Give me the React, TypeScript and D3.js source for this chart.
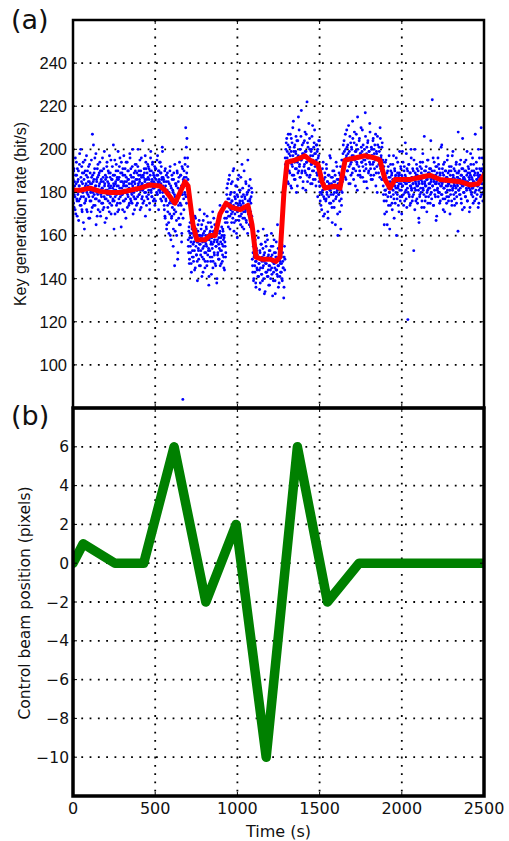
import React from 'react';
import * as d3 from 'd3';

// ---------- data ----------
const timeTicks = [0, 500, 1000, 1500, 2000, 2500];
const rateTicks = [100, 120, 140, 160, 180, 200, 220, 240];
const beamTicks = [-10, -8, -6, -4, -2, 0, 2, 4, 6];

// control beam position (panel b)
const beamTime = [0, 62, 255, 430, 615, 808, 992, 1175, 1365, 1548, 1740, 2500];
const beamPos = [0, 1, 0, 0, 6, -2, 2, -10, 6, -2, 0, 0];

// moving average of key rate (red line)
const avgTime = [0, 43, 103, 164, 225, 286, 347, 408, 468, 529, 560, 590, 620, 651, 681, 700, 730, 754, 803, 833, 864, 894, 931, 967, 1016, 1064, 1089, 1113, 1150, 1198, 1235, 1259, 1283, 1302, 1350, 1381, 1411, 1442, 1490, 1515, 1533, 1594, 1624, 1655, 1715, 1776, 1837, 1867, 1898, 1928, 1959, 2050, 2172, 2232, 2354, 2415, 2464, 2500];
const avgRate = [181, 181, 182, 180.5, 180, 180, 181, 182, 183.5, 183, 181, 178, 175, 180, 185, 183, 165, 158, 158, 160, 160, 170, 175, 173, 172, 174, 165, 150, 149, 149, 148, 150, 180, 194, 195, 196, 197, 195, 193, 185, 182, 183, 182, 195, 196, 197, 196, 195, 186, 182, 186, 186, 188, 186, 185, 183.5, 184, 188];

// raw key rate samples, per segment (evenly spaced in time within each segment)
const segStarts = [0, 700, 930, 1090, 1290, 1500, 1640, 1885];
const segEnds = [700, 930, 1090, 1290, 1500, 1640, 1885, 2500];

const rateSegA = [
  186,175,191,179,183,172,188,181,194,177,
  169,185,180,190,176,183,198,174,181,187,
  178,192,171,184,180,166,189,182,175,195,
  183,177,188,172,181,190,179,185,168,182,
  193,176,184,180,171,187,182,207,178,185,
  174,189,181,196,177,183,165,186,180,191,
  179,172,188,183,176,194,181,169,185,178,
  190,182,175,187,180,173,199,184,177,186,
  181,168,192,179,185,176,183,189,171,182,
  187,178,195,180,174,186,182,177,202,183,
  176,188,170,184,181,193,179,186,175,190,
  183,172,187,180,196,178,185,164,182,189,
  179,191,176,184,181,171,188,183,177,194,
  185,180,173,190,178,186,182,175,198,181,
  188,176,184,179,192,183,170,187,180,185,
  177,193,182,186,174,189,181,178,200,184,
  190,179,185,172,188,183,196,177,184,181,
  175,187,182,191,180,186,169,194,183,178,
  189,184,177,192,181,186,175,190,183,199,
  180,185,178,193,184,176,188,182,187,174,
  191,183,186,180,195,179,188,184,172,190,
  185,181,194,177,189,183,186,201,180,187,
  178,185,172,190,168,183,176,188,165,181,
  174,187,179,161,184,170,192,176,158,182,
  169,186,175,180,163,189,172,146,178,184,
  171,183,160,190,176,152,185,168,179,194,
  181,165,188,174,157,192,179,84,186,177,
  190,183,196,179,210,187,175,205,182,192,
];
const rateSegA2 = [
  182,190,173,185,178,196,170,184,188,176,
  191,179,186,167,183,193,177,181,200,174,
  185,172,189,181,194,178,186,163,182,190,
  176,184,197,180,171,187,183,192,178,185,
  168,189,181,176,195,184,173,188,180,202,
  186,179,191,174,183,198,177,185,169,187,
  193,181,176,189,184,171,190,179,186,175,
  182,196,172,185,191,178,183,166,188,180,
  177,187,194,181,173,190,184,179,197,175,
  189,183,170,186,180,192,176,188,184,163,
  181,195,178,185,190,174,183,187,171,199,
  186,177,192,182,175,189,180,194,179,185,
  172,188,183,197,176,185,191,180,168,187,
  183,194,179,186,190,174,184,181,196,177,
  191,180,187,175,185,200,182,178,189,172,
  184,190,177,193,181,186,175,192,183,188,
  179,186,195,181,190,173,187,184,178,204,
  188,182,176,189,185,197,180,191,174,186,
  183,193,187,179,191,184,172,188,196,181,
  190,178,186,194,182,189,185,177,192,184,
  176,191,183,188,179,197,185,190,181,186,
  194,180,189,184,192,176,187,199,183,178,
  186,174,182,169,191,177,185,163,180,189,
  171,185,166,180,175,190,160,183,177,168,
  188,173,181,155,186,170,179,193,162,176,
  184,167,178,189,149,182,174,187,165,180,
  175,188,170,183,161,179,191,168,185,172,
  187,180,193,184,178,201,189,183,196,186,
];
const rateSegB = [
  158,152,164,149,161,155,170,147,159,163,
  153,166,150,157,161,144,159,168,155,151,
  162,148,157,165,153,160,146,172,156,151,
  163,158,141,160,154,167,149,158,162,145,
  157,152,164,155,169,148,160,153,137,158,
  161,150,166,156,142,159,154,171,148,162,
  157,151,165,160,146,155,163,140,158,152,
  167,156,149,161,174,153,159,147,164,156,
  151,162,158,145,160,168,155,150,
];
const rateSegB2 = [
  155,162,147,159,166,152,157,143,161,150,
  164,156,148,160,153,169,145,158,163,151,
  157,139,162,154,149,167,156,160,146,153,
  159,165,150,157,143,161,155,170,152,148,
  160,156,163,146,158,151,166,154,141,159,
  153,162,148,157,164,150,156,145,161,168,
  152,158,147,163,155,160,138,157,151,165,
  149,159,154,162,146,157,171,153,160,148,
  163,155,150,159,144,157,166,152,
];
const rateSegC = [
  175,168,182,171,177,164,186,173,169,179,
  172,184,166,176,171,190,174,162,180,170,
  177,167,183,173,159,178,172,188,169,175,
  181,165,174,170,193,176,168,179,163,173,
  178,171,185,167,174,180,161,176,172,183,
  170,177,164,175,182,169,
];
const rateSegC2 = [
  171,179,166,184,174,169,177,188,163,175,
  180,170,176,185,168,173,191,166,178,172,
  183,175,161,179,171,186,174,167,181,176,
  169,187,173,178,164,182,175,171,190,168,
  177,172,184,166,179,174,195,170,181,165,
  176,186,171,178,167,180,
];
const rateSegD = [
  149,143,155,140,151,146,158,138,148,153,
  144,150,162,141,147,135,152,145,156,142,
  148,139,154,146,151,133,149,157,143,147,
  160,141,150,144,137,153,146,149,140,155,
  145,151,132,148,143,158,147,139,152,144,
  150,142,165,146,136,149,154,141,147,151,
  143,156,139,148,145,131,150,144,
];
const rateSegD2 = [
  146,152,139,150,157,143,148,136,154,145,
  151,141,159,147,144,153,138,149,156,142,
  150,145,163,140,148,152,134,147,155,143,
  149,158,141,151,146,137,153,144,150,161,
  142,148,155,139,147,152,145,133,150,157,
  144,149,141,154,146,138,151,148,143,159,
  147,140,152,145,150,136,155,149,
];
const rateSegE = [
  196,189,203,192,199,185,207,194,190,201,
  197,183,205,193,188,210,195,199,186,202,
  191,198,180,204,194,189,215,196,192,200,
  187,206,195,190,198,182,203,197,193,208,
  189,199,194,222,185,201,196,191,205,188,
  197,193,200,184,211,195,190,203,198,186,
  194,202,189,199,178,196,204,192,
];
const rateSegE2 = [
  193,200,187,205,196,191,202,184,198,194,
  189,207,195,199,182,203,192,197,213,188,
  201,194,186,199,206,191,196,183,204,197,
  190,209,193,187,200,195,218,189,202,196,
  185,198,192,204,190,199,181,207,194,188,
  203,196,191,212,187,200,195,184,199,193,
  206,190,197,186,201,194,209,192,198,183,
  195,202,188,200,191,197,185,204,
];
const rateSegF = [
  183,176,189,180,172,186,181,194,178,184,
  170,187,182,177,191,179,185,168,183,188,
  175,181,196,179,184,173,187,182,176,190,
  180,185,165,183,178,192,181,160,186,179,
  184,171,188,163,177,195,180,
];
const rateSegF2 = [
  180,187,174,185,179,191,183,169,186,177,
  189,182,176,193,180,185,171,188,178,184,
  197,181,175,187,183,166,190,179,185,173,
  182,188,177,194,180,186,170,184,179,189,
  176,183,192,181,174,187,185,
];
const rateSegG = [
  195,202,188,199,193,207,186,197,201,190,
  198,211,192,196,184,203,194,200,189,205,
  197,191,208,195,183,199,202,193,215,188,
  196,204,190,198,187,201,194,209,192,197,
  185,200,195,206,191,198,182,203,196,190,
  199,212,193,188,201,197,186,204,194,200,
  191,196,207,189,198,180,202,195,193,199,
  187,205,196,190,201,194,
];
const rateSegG2 = [
  198,191,204,194,187,200,196,209,190,202,
  195,184,199,206,193,188,201,197,213,191,
  186,203,195,199,190,207,194,181,200,196,
  192,205,188,198,210,194,199,187,202,195,
  190,197,217,193,185,201,196,204,189,199,
  194,208,191,186,200,197,193,205,188,198,
  202,195,183,199,192,206,196,189,201,194,
  210,191,197,186,203,195,
];
const rateSegH = [
  186,179,192,165,170,188,181,195,176,184,
  165,190,182,174,187,180,163,185,193,178,
  184,189,172,186,181,197,177,183,190,175,
  188,182,160,185,179,194,183,187,171,189,
  181,176,192,184,188,178,199,183,186,174,
  190,185,180,203,187,177,184,191,182,121,
  186,193,179,185,174,189,183,196,181,187,
  178,184,190,153,186,182,200,185,176,188,
  183,191,175,187,181,168,184,178,192,186,
  180,189,173,185,194,182,187,179,206,184,
  176,190,183,188,171,186,181,195,178,184,
  189,182,175,191,185,180,187,223,183,196,
  174,186,190,179,184,188,167,185,192,181,
  187,178,193,184,180,189,176,186,201,183,
  179,191,185,172,188,182,194,177,186,190,
  183,175,187,181,197,184,178,190,185,170,
  188,183,192,176,186,181,199,187,179,184,
  174,190,185,182,194,178,187,183,162,189,
  181,186,193,179,184,188,175,191,183,205,
  186,180,187,173,190,184,178,195,182,188,
  176,185,192,183,187,171,189,181,198,184,
  179,190,186,182,175,193,185,188,180,207,
  184,177,191,186,183,189,173,187,181,196,
  188,182,185,210,179,191,184,176,189,186,
];
const rateSegH2 = [
  183,190,176,187,181,194,179,186,171,189,
  185,178,192,183,197,180,187,174,190,182,
  188,175,184,193,179,186,168,191,183,187,
  180,196,185,177,189,182,174,188,184,199,
  178,186,191,181,170,187,183,194,179,185,
  192,176,188,184,181,198,173,186,190,180,
  185,193,178,189,183,175,200,182,187,176,
  191,184,179,195,186,172,189,181,184,193,
  177,188,183,190,185,166,187,179,194,182,
  186,191,176,184,198,181,188,173,190,185,
  183,178,192,186,180,195,175,189,182,187,
  191,184,179,204,186,177,190,183,188,174,
  185,194,181,187,178,192,184,169,189,182,
  196,180,186,191,175,188,183,185,179,202,
  184,189,177,193,182,186,171,190,185,180,
  187,178,195,183,189,176,184,192,181,186,
  179,190,185,174,197,182,188,183,191,177,
  186,183,180,193,175,189,184,187,208,181,
  190,179,186,182,195,177,188,184,172,191,
  183,187,180,194,186,178,190,185,181,199,
  176,189,184,191,182,186,173,188,193,180,
  187,182,196,178,185,190,183,176,189,184,
  181,194,186,179,188,183,200,175,187,191,
  185,178,190,184,182,196,186,180,193,187,
];
const rateSegments = [rateSegA, rateSegB, rateSegC, rateSegD, rateSegE, rateSegF, rateSegG, rateSegH];
const rateSegments2 = [rateSegA2, rateSegB2, rateSegC2, rateSegD2, rateSegE2, rateSegF2, rateSegG2, rateSegH2];

// ---------- layout ----------
const W = 509, H = 841;
const X0 = 73, X1 = 484;
const A_TOP = 20, A_BOT = 408, B_TOP = 408, B_BOT = 796;
const SANS = "'DejaVu Sans', sans-serif";
const ARIAL = "'Liberation Sans', Arial, sans-serif";

export default function App() {
  const x = d3.scaleLinear().domain([0, 2500]).range([X0, X1]);
  const yA = d3.scaleLinear().domain([80, 260]).range([A_BOT, A_TOP]);
  const yB = d3.scaleLinear().domain([-12, 8]).range([B_BOT, B_TOP]);

  const points: { t: number; v: number }[] = [];
  [rateSegments, rateSegments2].forEach((set, k) => {
    set.forEach((seg, s) => {
      const t0 = segStarts[s], t1 = segEnds[s];
      const off = k === 0 ? 0.25 : 0.75;
      seg.forEach((v, i) => points.push({ t: t0 + ((i + off) * (t1 - t0)) / seg.length, v }));
    });
  });

  const avgLine = d3.line<number>().x((_, i) => x(avgTime[i])).y((d) => yA(d))(avgRate) || '';
  const beamLine = d3.line<number>().x((_, i) => x(beamTime[i])).y((d) => yB(d))(beamPos) || '';

  const dot = { stroke: '#000', strokeWidth: 1.8, strokeDasharray: '1.8 6.5' };
  const gridX = timeTicks.filter((t) => t > 0 && t < 2500);
  const fmt = (v: number) => (v < 0 ? '\u2212' + Math.abs(v) : String(v));

  return (
    <svg width={W} height={H} style={{ display: 'block', position: 'absolute', left: 0, top: 0 }}>
      <rect width={W} height={H} fill="#fff" />
      <defs>
        <clipPath id="clipA"><rect x={X0} y={A_TOP} width={X1 - X0} height={A_BOT - A_TOP} /></clipPath>
        <clipPath id="clipB"><rect x={X0} y={B_TOP} width={X1 - X0} height={B_BOT - B_TOP} /></clipPath>
      </defs>

      {/* Panel A grid */}
      {gridX.map((t) => (
        <line key={'ax' + t} x1={x(t)} x2={x(t)} y1={A_TOP} y2={A_BOT} {...dot} />
      ))}
      {rateTicks.map((v) => (
        <line key={'ay' + v} x1={X0} x2={X1} y1={yA(v)} y2={yA(v)} {...dot} />
      ))}
      {/* Panel B grid */}
      {gridX.map((t) => (
        <line key={'bx' + t} x1={x(t)} x2={x(t)} y1={B_TOP} y2={B_BOT} {...dot} />
      ))}
      {beamTicks.map((v) => (
        <line key={'by' + v} x1={X0} x2={X1} y1={yB(v)} y2={yB(v)} {...dot} />
      ))}

      {/* Panel A data */}
      <g clipPath="url(#clipA)">
        {points.map((p, i) => (
          <circle key={i} cx={x(p.t)} cy={yA(p.v)} r={1.45} fill="#0000ff" />
        ))}
        <path d={avgLine} fill="none" stroke="#ff0000" strokeWidth={5} strokeLinejoin="round" strokeLinecap="round" />
      </g>

      {/* Panel B data */}
      <g clipPath="url(#clipB)">
        <path d={beamLine} fill="none" stroke="#008000" strokeWidth={9.5} strokeLinejoin="round" strokeLinecap="round" />
      </g>

      {/* tick marks */}
      {rateTicks.map((v) => (
        <g key={'tka' + v}>
          <line x1={X0} x2={X0 + 4} y1={yA(v)} y2={yA(v)} stroke="#000" strokeWidth={1} />
          <line x1={X1 - 4} x2={X1} y1={yA(v)} y2={yA(v)} stroke="#000" strokeWidth={1} />
        </g>
      ))}
      {beamTicks.map((v) => (
        <g key={'tkb' + v}>
          <line x1={X0} x2={X0 + 4} y1={yB(v)} y2={yB(v)} stroke="#000" strokeWidth={1} />
          <line x1={X1 - 4} x2={X1} y1={yB(v)} y2={yB(v)} stroke="#000" strokeWidth={1} />
        </g>
      ))}
      {gridX.map((t) => (
        <g key={'tkx' + t}>
          <line x1={x(t)} x2={x(t)} y1={A_TOP} y2={A_TOP + 4} stroke="#000" strokeWidth={1} />
          <line x1={x(t)} x2={x(t)} y1={A_BOT - 4} y2={A_BOT} stroke="#000" strokeWidth={1} />
          <line x1={x(t)} x2={x(t)} y1={B_TOP} y2={B_TOP + 4} stroke="#000" strokeWidth={1} />
          <line x1={x(t)} x2={x(t)} y1={B_BOT - 4} y2={B_BOT} stroke="#000" strokeWidth={1} />
        </g>
      ))}

      {/* frames */}
      <rect x={X0} y={A_TOP} width={X1 - X0} height={A_BOT - A_TOP} fill="none" stroke="#000" strokeWidth={2.5} />
      <rect x={X0} y={B_TOP} width={X1 - X0} height={B_BOT - B_TOP} fill="none" stroke="#000" strokeWidth={3.5} />

      {/* tick labels */}
      {rateTicks.map((v) => (
        <text key={'la' + v} x={X0 - 6} y={yA(v)} dy="0.36em" textAnchor="end" fontFamily={ARIAL} fontSize={16.5} fill="#111">{v}</text>
      ))}
      {beamTicks.map((v) => (
        <text key={'lb' + v} x={X0 - 4} y={yB(v)} dy="0.36em" textAnchor="end" fontFamily={SANS} fontSize={15.5} fill="#111">{fmt(v)}</text>
      ))}
      {timeTicks.map((t) => (
        <text key={'lx' + t} x={x(t)} y={814} textAnchor="middle" fontFamily={SANS} fontSize={16} fill="#111">{t}</text>
      ))}

      {/* axis labels */}
      <text transform={`translate(26,214) rotate(-90)`} textAnchor="middle" fontFamily={ARIAL} fontSize={16} fill="#111">Key generation rate (bit/s)</text>
      <text transform={`translate(30,603) rotate(-90)`} textAnchor="middle" fontFamily={SANS} fontSize={15.5} fill="#111">Control beam position (pixels)</text>
      <text x={(X0 + X1) / 2} y={837} textAnchor="middle" fontFamily={SANS} fontSize={16} fill="#111">Time (s)</text>

      {/* panel letters */}
      <text x={11} y={29} fontFamily={SANS} fontSize={27} fill="#111">(a)</text>
      <text x={11} y={425} fontFamily={SANS} fontSize={27} fill="#111">(b)</text>
    </svg>
  );
}
